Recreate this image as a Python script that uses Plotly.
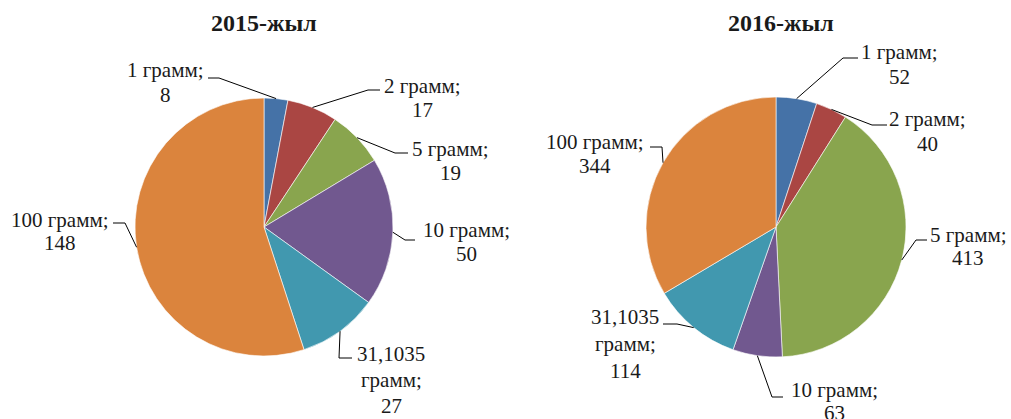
import math
import plotly.graph_objects as go

W, H = 1011, 419

# ---- data ----
categories = ["1 грамм", "2 грамм", "5 грамм", "10 грамм", "31,1035 грамм", "100 грамм"]
values_2015 = [8, 17, 19, 50, 27, 148]
values_2016 = [52, 40, 413, 63, 114, 344]
years = ["2015-жыл", "2016-жыл"]
colors = ["#4572A7", "#AA4643", "#89A54E", "#71588F", "#4198AF", "#DB843D"]

# how long category names wrap inside their data labels
label_wrap = {"31,1035 грамм": ["31,1035", "грамм;"]}

# ---- layout (pixels) ----
pie_geo = [
    dict(cx=264, cy=227, r=129, tx=264, ty=23),
    dict(cx=776, cy=227, r=130, tx=781, ty=23),
]

# per-slice label placement: text center x, line center ys,
# leader attach point next to the text (ax, ay) and elbow x (ex)
placements = [
    [
        dict(x=165, ys=[70, 95], ax=208, ay=78, ex=219),
        dict(x=422, ys=[86, 110], ax=380, ay=90, ex=368),
        dict(x=450, ys=[149, 173], ax=408, ay=153, ex=395),
        dict(x=466, ys=[230, 254], ax=415, ay=240, ex=405),
        dict(x=391, ys=[354, 380], ax=352, ay=358, ex=339),
        dict(x=60, ys=[220, 243], ax=113, ay=223, ex=125),
    ],
    [
        dict(x=899, ys=[52, 77], ax=858, ay=58, ex=843),
        dict(x=927, ys=[119, 144], ax=887, ay=125, ex=872),
        dict(x=968, ys=[235, 258], ax=927, ay=240, ex=916),
        dict(x=834, ys=[390, 413], ax=783, ay=397, ex=772),
        dict(x=625, ys=[317, 344], ax=663, ay=324, ex=677),
        dict(x=595, ys=[142, 166], ax=650, ay=147, ex=662),
    ],
]

SERIF = "Liberation Serif"
LABEL_SIZE = 21
TITLE_SIZE = 24
TEXT_COLOR = "#1a1a1a"


def px(x):
    return x / W


def py(y):
    return 1 - y / H


fig = go.Figure()
annotations = []
shapes = []

for vals, geo, title, place in zip([values_2015, values_2016], pie_geo, years, placements):
    cx, cy, r = geo["cx"], geo["cy"], geo["r"]
    fig.add_trace(go.Pie(
        labels=categories,
        values=vals,
        sort=False,
        direction="clockwise",
        rotation=0,
        textinfo="none",
        hoverinfo="label+value",
        marker=dict(colors=colors, line=dict(color="white", width=0.6)),
        domain=dict(x=[px(cx - r), px(cx + r)], y=[py(cy + r), py(cy - r)]),
        showlegend=False,
    ))

    annotations.append(dict(
        text=f"<b>{title}</b>", x=px(geo["tx"]), y=py(geo["ty"]),
        xref="paper", yref="paper", xanchor="center", yanchor="middle",
        showarrow=False, font=dict(family=SERIF, size=TITLE_SIZE, color=TEXT_COLOR),
    ))

    total = sum(vals)
    cum = 0
    for cat, v, p in zip(categories, vals, place):
        mid = math.radians(360 * (cum + v / 2) / total)
        cum += v
        # point on the slice edge where the leader line ends
        ex_, ey_ = cx + r * math.sin(mid), cy - r * math.cos(mid)

        lines = label_wrap.get(cat, [cat + ";"]) + [str(v)]
        for line, ly in zip(lines, p["ys"] + [p["ys"][-1] + (p["ys"][-1] - p["ys"][-2])]):
            annotations.append(dict(
                text=line, x=px(p["x"]), y=py(ly),
                xref="paper", yref="paper", xanchor="center", yanchor="middle",
                showarrow=False, font=dict(family=SERIF, size=LABEL_SIZE, color=TEXT_COLOR),
            ))

        path = (f"M {px(p['ax'])} {py(p['ay'])} L {px(p['ex'])} {py(p['ay'])} "
                f"L {px(ex_)} {py(ey_)}")
        shapes.append(dict(type="path", path=path, xref="paper", yref="paper",
                           line=dict(color="#000", width=1)))

fig.update_layout(
    width=W, height=H,
    margin=dict(l=0, r=0, t=0, b=0),
    paper_bgcolor="white", plot_bgcolor="white",
    annotations=annotations, shapes=shapes,
)

fig.write_html("out.html")
